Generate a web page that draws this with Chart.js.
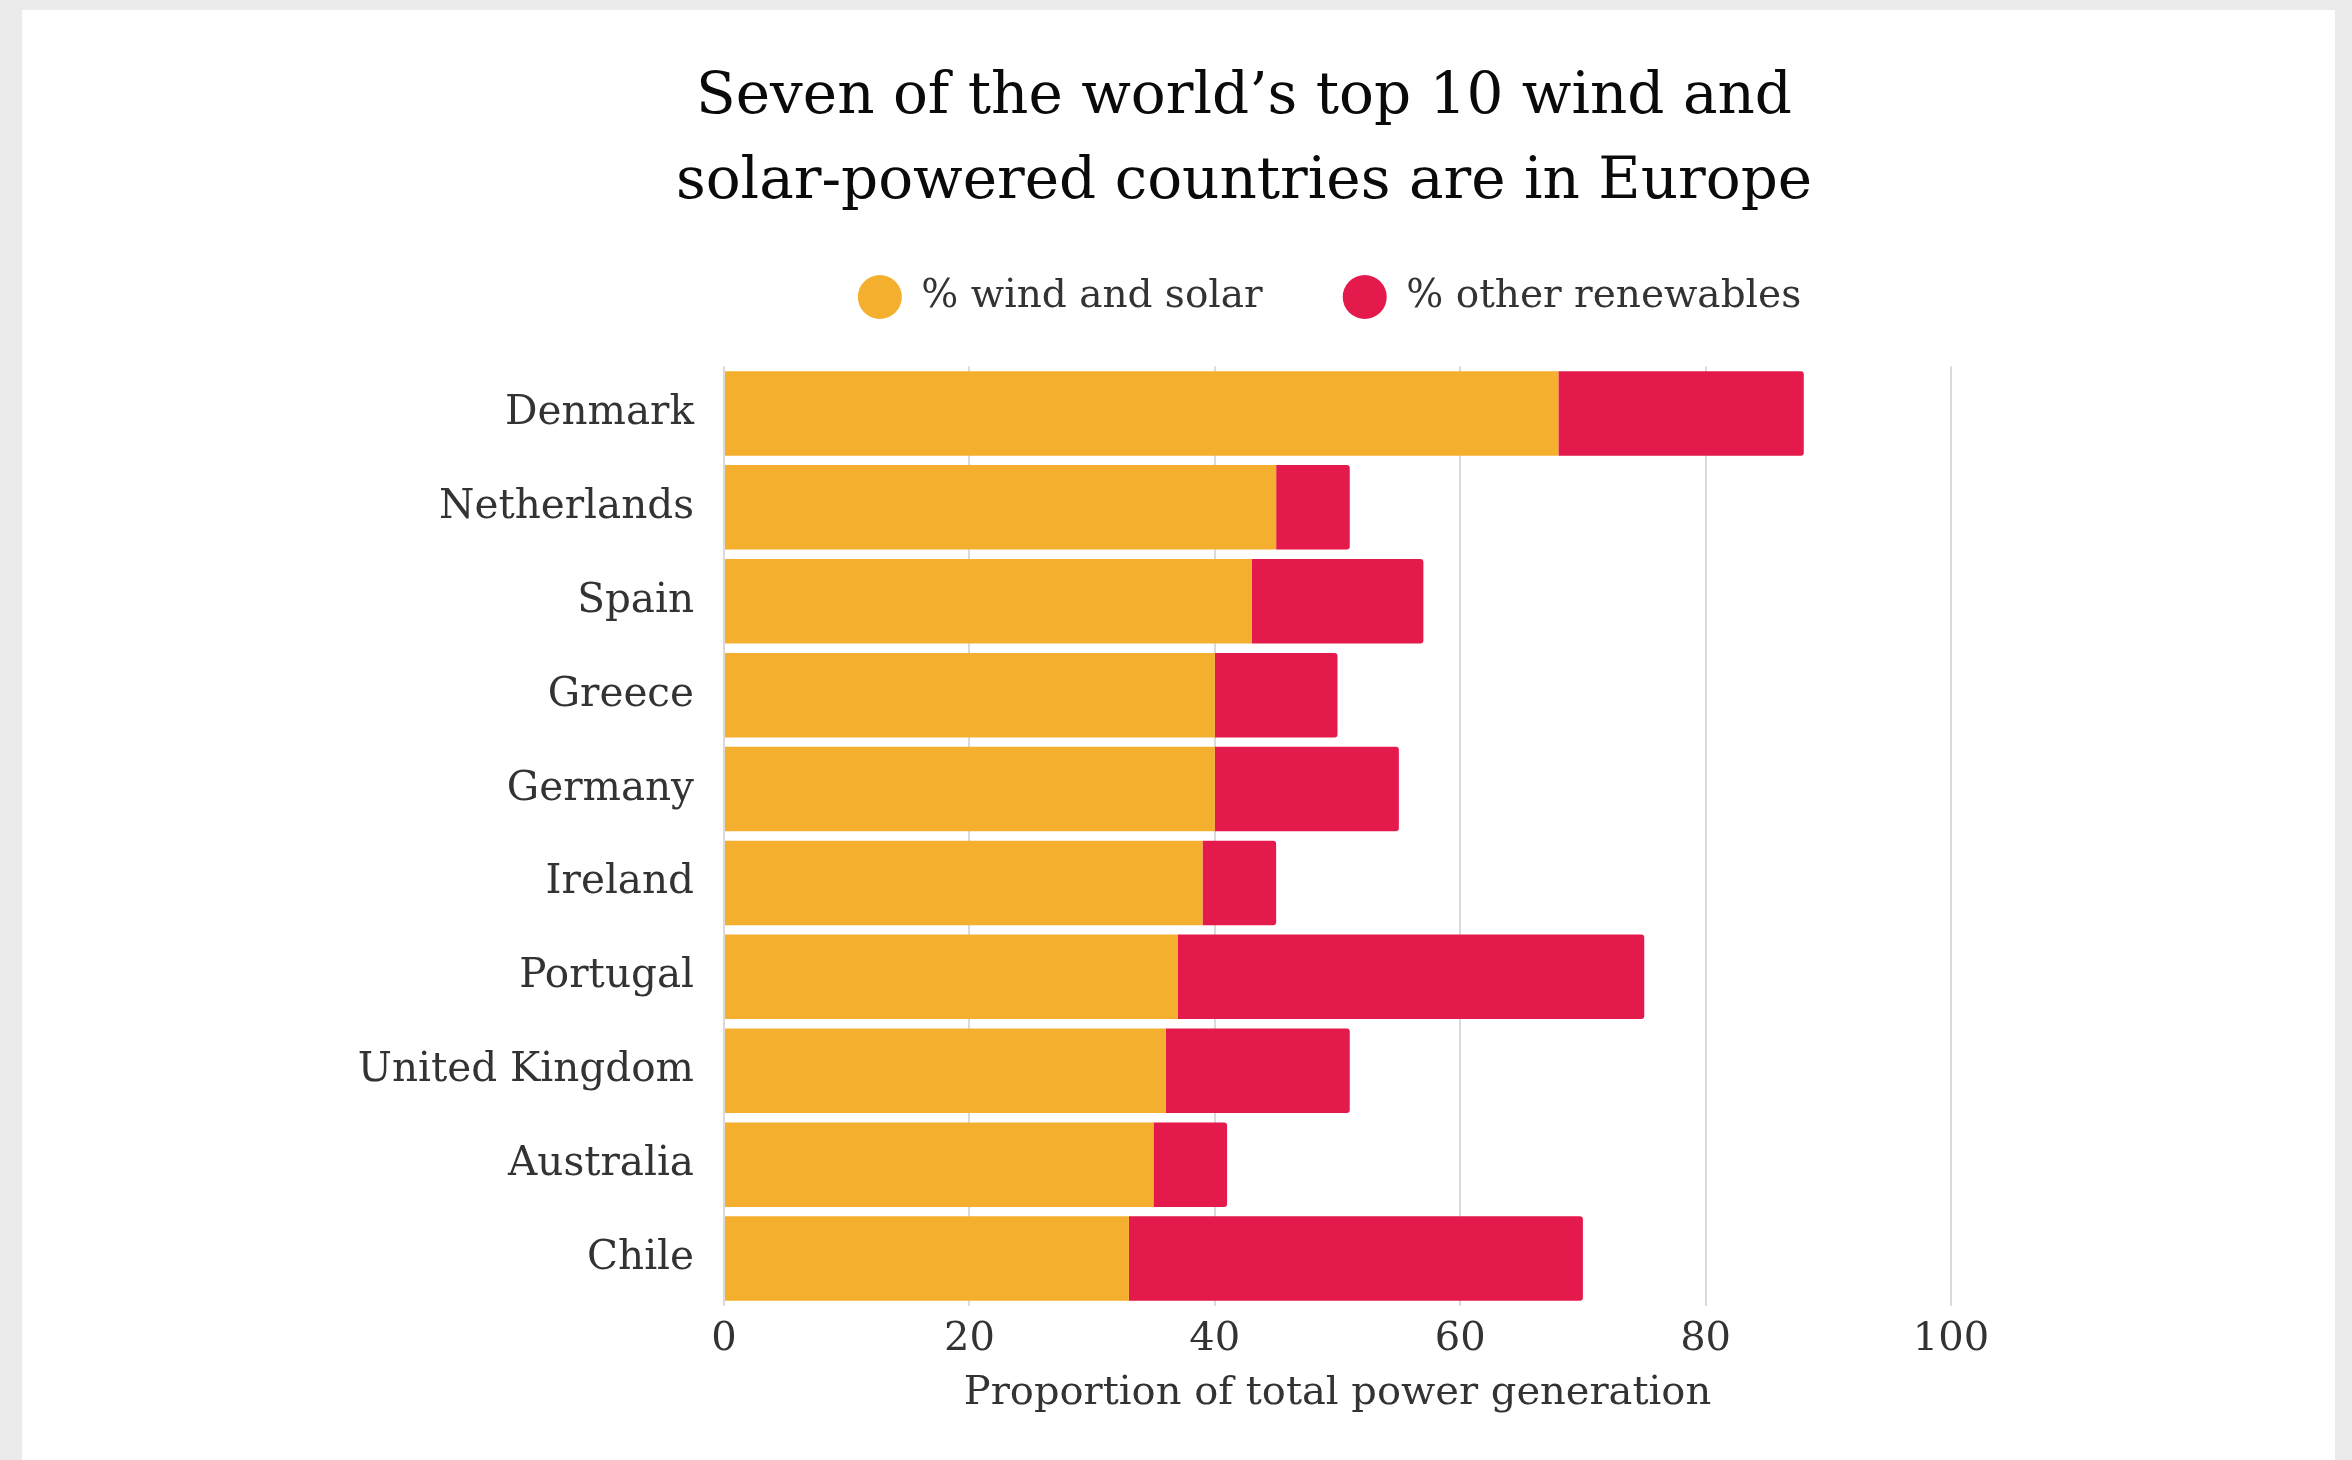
<!DOCTYPE html>
<html>
<head>
<meta charset="utf-8">
<script src="https://cdn.jsdelivr.net/npm/chart.js@4.4.1/dist/chart.umd.min.js"></script>
<style>
  html, body { margin: 0; padding: 0; background: #ebebeb; width: 2352px; height: 1460px; overflow: hidden; }
  #card { position: absolute; left: 22px; top: 10px; width: 2313px; height: 1450px; background: #ffffff; }
  #wrap { position: absolute; left: 153px; top: 0px; width: 2182px; height: 1460px; }
</style>
</head>
<body>
<div id="card"></div>
<div id="wrap"><canvas id="c"></canvas></div>
<script>
const titleLines = ['Seven of the world\u2019s top 10 wind and', 'solar-powered countries are in Europe'];
const seriesNames = ['% wind and solar', '% other renewables'];
const categories = ['Denmark', 'Netherlands', 'Spain', 'Greece', 'Germany', 'Ireland', 'Portugal', 'United Kingdom', 'Australia', 'Chile'];
const windSolar = [68, 45, 43, 40, 40, 39, 37, 36, 35, 33];
const otherRenewables = [20, 6, 14, 10, 15, 6, 38, 15, 6, 37];
const xAxisTitle = 'Proportion of total power generation';

const FONT = "'DejaVu Serif', serif";
const LEGEND_H = 169;
const LEGEND_SHIFT_X = -8;

const chart = new Chart(document.getElementById('c'), {
  type: 'bar',
  data: {
    labels: categories,
    datasets: [
      { label: seriesNames[0], data: windSolar, backgroundColor: '#f4af2f', borderWidth: 0, borderColor: '#f4af2f' },
      { label: seriesNames[1], data: otherRenewables, backgroundColor: '#e51a4c', borderWidth: 0, borderColor: '#e51a4c', borderRadius: 3 }
    ]
  },
  options: {
    indexAxis: 'y',
    responsive: true,
    maintainAspectRatio: false,
    animation: false,
    layout: { padding: { top: 0, right: 0, bottom: 42.5, left: 0 } },
    datasets: { bar: { categoryPercentage: 1.0, barPercentage: 0.9 } },
    plugins: {
      title: {
        display: true,
        text: titleLines,
        color: '#0a0a0a',
        font: { family: FONT, size: 58, weight: 'normal', lineHeight: 85 / 58 },
        padding: { top: 55.5, bottom: -28 }
      },
      legend: {
        display: true,
        position: 'top',
        fullSize: false,
        labels: {
          usePointStyle: true,
          pointStyle: 'circle',
          boxHeight: 31,
          pointStyleWidth: 44,
          padding: 80,
          color: '#333333',
          font: { family: FONT, size: 39 }
        }
      },
      tooltip: { enabled: false }
    },
    scales: {
      x: {
        stacked: true,
        min: 0,
        max: 100,
        ticks: { stepSize: 20, color: '#333333', padding: 10.5, font: { family: FONT, size: 40 } },
        grid: { color: '#dadada', lineWidth: 2, drawTicks: false },
        border: { display: false },
        title: { display: true, text: xAxisTitle, color: '#333333', font: { family: FONT, size: 40 }, padding: { top: -5, bottom: 0 } }
      },
      y: {
        stacked: true,
        ticks: { color: '#333333', padding: 22, font: { family: FONT, size: 40.5 } },
        grid: { display: false },
        border: { display: false },
        afterFit: (scale) => { scale.width = 571; }
      },
      yRight: {
        type: 'category',
        position: 'right',
        display: true,
        ticks: { display: false },
        grid: { display: false },
        border: { display: false },
        afterFit: (scale) => { scale.width = 384; }
      }
    }
  }
});
const origFit = chart.legend.fit;
chart.legend.fit = function () { origFit.call(this); this.height = LEGEND_H; };
const origDraw = chart.legend.draw;
chart.legend.draw = function () {
  this.ctx.save();
  this.ctx.translate(LEGEND_SHIFT_X, 0);
  origDraw.call(this);
  this.ctx.restore();
};
chart.update();
</script>
</body>
</html>
